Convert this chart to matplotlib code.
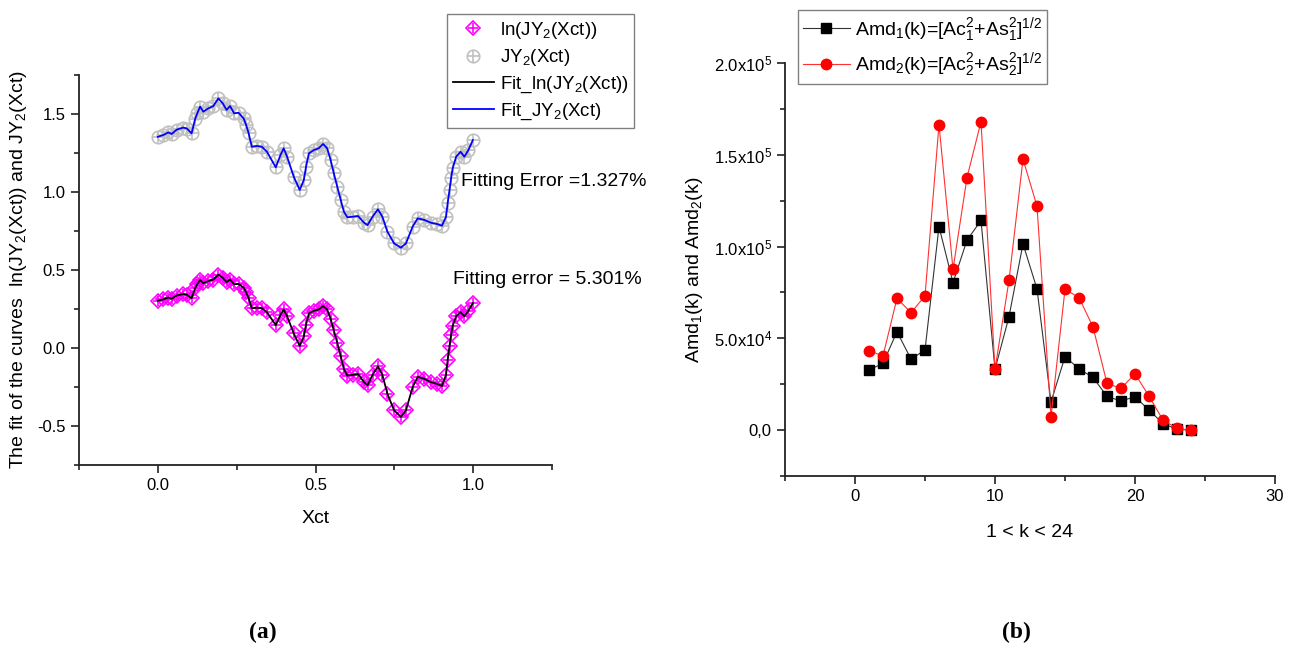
import numpy as np
import matplotlib
matplotlib.use('Agg')
import matplotlib.pyplot as plt
from matplotlib.ticker import MultipleLocator, FixedLocator, FixedFormatter

plt.rcParams['font.family'] = ['Liberation Sans', 'DejaVu Sans']
plt.rcParams['mathtext.fontset'] = 'custom'
plt.rcParams['mathtext.rm'] = 'Liberation Sans'
plt.rcParams['mathtext.it'] = 'Liberation Sans:italic'
plt.rcParams['mathtext.bf'] = 'Liberation Sans:bold'
plt.rcParams['mathtext.default'] = 'regular'
plt.rcParams['axes.unicode_minus'] = False

# (a) JY2(Xct); ln curve is ln of it
xct = [0.0, 0.017, 0.033, 0.044, 0.06, 0.081, 0.092, 0.107, 0.118, 0.125,
       0.134, 0.144, 0.16, 0.176, 0.192, 0.206, 0.218, 0.229, 0.242, 0.256,
       0.272, 0.28, 0.288, 0.298, 0.314, 0.33, 0.346, 0.374, 0.389, 0.399,
       0.41, 0.431, 0.45, 0.463, 0.47, 0.479, 0.495, 0.51, 0.524, 0.537,
       0.548, 0.558, 0.569, 0.58, 0.59, 0.601, 0.62, 0.635, 0.654, 0.665,
       0.681, 0.698, 0.712, 0.728, 0.749, 0.771, 0.787, 0.808, 0.824, 0.845,
       0.866, 0.885, 0.901, 0.914, 0.919, 0.925, 0.93, 0.935, 0.946, 0.96,
       0.972, 0.985, 0.999]
jy2 = [1.354, 1.365, 1.382, 1.372, 1.40, 1.413, 1.407, 1.376, 1.466, 1.504,
       1.547, 1.515, 1.536, 1.551, 1.60, 1.568, 1.526, 1.551, 1.504, 1.508,
       1.472, 1.43, 1.376, 1.29, 1.295, 1.29, 1.258, 1.158, 1.237, 1.28,
       1.226, 1.098, 1.013, 1.077, 1.162, 1.248, 1.269, 1.28, 1.308, 1.28,
       1.205, 1.12, 1.034, 0.949, 0.874, 0.838, 0.842, 0.846, 0.803, 0.788,
       0.842, 0.889, 0.842, 0.746, 0.671, 0.643, 0.671, 0.778, 0.831, 0.821,
       0.803, 0.795, 0.784, 0.842, 0.927, 1.013, 1.088, 1.152, 1.226, 1.258,
       1.226, 1.269, 1.333]
ln_jy2 = np.log(jy2)

# (b) amplitudes
k = list(range(1, 25))
amd1 = [32700, 36400, 53600, 38700, 43600, 110900, 80300, 103500, 114200, 33100,
        61800, 101500, 76900, 15300, 40000, 33400, 28700, 18400, 15800, 18200,
        10900, 3600, 400, 0]
amd2 = [43300, 40400, 71800, 64000, 73100, 166400, 87600, 137600, 168000, 33100,
        81600, 147600, 122000, 7300, 76700, 72200, 56200, 25500, 22700, 30700,
        18500, 5500, 900, 0]

W, H = 1293, 649
fig = plt.figure(figsize=(W / 100, H / 100), dpi=100)


def style(ax):
    for s in ['top', 'right']:
        ax.spines[s].set_visible(False)
    for s in ['left', 'bottom']:
        ax.spines[s].set_linewidth(1.3)
        ax.spines[s].set_color('#222222')
    ax.tick_params(which='major', direction='out', length=6, width=1.2,
                   labelsize=12, color='#222222')
    ax.tick_params(which='minor', direction='out', length=3.5, width=1.2,
                   color='#222222')


# ---- panel (a)
ax1 = fig.add_axes([79 / W, 1 - 465 / H, 473 / W, 390 / H])
gray = '#c0c0c0'
pink = '#ff00ff'
g1, = ax1.plot(xct, jy2, 'o', ls='none', ms=9, mfc='none', mec=gray, mew=1.2)
g2, = ax1.plot(xct, jy2, '+', ls='none', ms=9, mec=gray, mew=1.2)
p1, = ax1.plot(xct, ln_jy2, 'D', ls='none', ms=7, mfc='none', mec=pink, mew=1.2)
p2, = ax1.plot(xct, ln_jy2, '+', ls='none', ms=7, mec=pink, mew=1.2)
fl, = ax1.plot(xct, ln_jy2, color='black', lw=1.3)
fj, = ax1.plot(xct, jy2, color='#0000ff', lw=1.3)

ax1.set_xlim(-0.25, 1.25)
ax1.set_ylim(-0.75, 1.75)
ax1.xaxis.set_major_locator(FixedLocator([0.0, 0.5, 1.0]))
ax1.xaxis.set_minor_locator(FixedLocator([-0.25, 0.25, 0.75, 1.25]))
ax1.yaxis.set_major_locator(FixedLocator([-0.5, 0.0, 0.5, 1.0, 1.5]))
ax1.yaxis.set_minor_locator(FixedLocator([-0.75, -0.25, 0.25, 0.75, 1.25, 1.75]))
ax1.xaxis.set_major_formatter(FixedFormatter(['0.0', '0.5', '1.0']))
ax1.yaxis.set_major_formatter(FixedFormatter(['-0.5', '0.0', '0.5', '1.0', '1.5']))
style(ax1)
ax1.set_xlabel('Xct', fontsize=14, labelpad=12)
ax1.set_ylabel('The fit of the curves  ln(JY$_2$(Xct)) and JY$_2$(Xct)',
               fontsize=14, labelpad=6)
ax1.text(0.96, 1.07, 'Fitting Error =1.327%', fontsize=14, va='center')
ax1.text(0.936, 0.436, 'Fitting error = 5.301%', fontsize=14, va='center')

fig.legend([(p1, p2), (g1, g2), fl, fj],
           ['ln(JY$_2$(Xct))', 'JY$_2$(Xct)', 'Fit_ln(JY$_2$(Xct))', 'Fit_JY$_2$(Xct)'],
           loc='upper left', bbox_to_anchor=(447 / W, 1 - 14 / H),
           borderaxespad=0, fontsize=13.5, fancybox=False, framealpha=1,
           edgecolor='#808080', handlelength=2.2, labelspacing=0.35,
           handletextpad=0.3, borderpad=0.3)

# ---- panel (b)
ax2 = fig.add_axes([785 / W, 1 - 476 / H, 490 / W, 413 / H])
b, = ax2.plot(k, amd1, color='#333333', lw=0.8, marker='s', ms=6.5,
              mfc='black', mec='black')
r, = ax2.plot(k, amd2, color='#ff3030', lw=0.8, marker='o', ms=7.5,
              mfc='#ff0000', mec='#ff0000')
ax2.set_xlim(-5, 30)
ax2.set_ylim(-25000, 200000)
ax2.xaxis.set_major_locator(MultipleLocator(10))
ax2.xaxis.set_minor_locator(FixedLocator([-5, 5, 15, 25]))
ax2.yaxis.set_major_locator(FixedLocator([0, 50000, 100000, 150000, 200000]))
ax2.yaxis.set_minor_locator(FixedLocator([-25000, 25000, 75000, 125000, 175000]))
ax2.yaxis.set_major_formatter(FixedFormatter(
    ['0,0', '5.0x10$^4$', '1.0x10$^5$', '1.5x10$^5$', '2.0x10$^5$']))
style(ax2)
ax2.set_xlabel('1 < k < 24', fontsize=14, labelpad=14)
ax2.set_ylabel('Amd$_1$(k) and Amd$_2$(k)', fontsize=14, labelpad=6)

fig.legend([b, r],
           ['Amd$_1$(k)=[Ac$_1^2$+As$_1^2$]$^{1/2}$',
            'Amd$_2$(k)=[Ac$_2^2$+As$_2^2$]$^{1/2}$'],
           loc='upper left', bbox_to_anchor=(798 / W, 1 - 10 / H),
           borderaxespad=0, fontsize=14, fancybox=False, framealpha=1,
           edgecolor='#808080', handlelength=2.4, labelspacing=0.35,
           handletextpad=0.3, borderpad=0.25)

fig.text(263 / W, 1 - 632 / H, '(a)', family='Liberation Serif',
         fontweight='bold', fontsize=17, ha='center', va='center')
fig.text(1016 / W, 1 - 632 / H, '(b)', family='Liberation Serif',
         fontweight='bold', fontsize=17, ha='center', va='center')

fig.savefig('out.png', dpi=100)
